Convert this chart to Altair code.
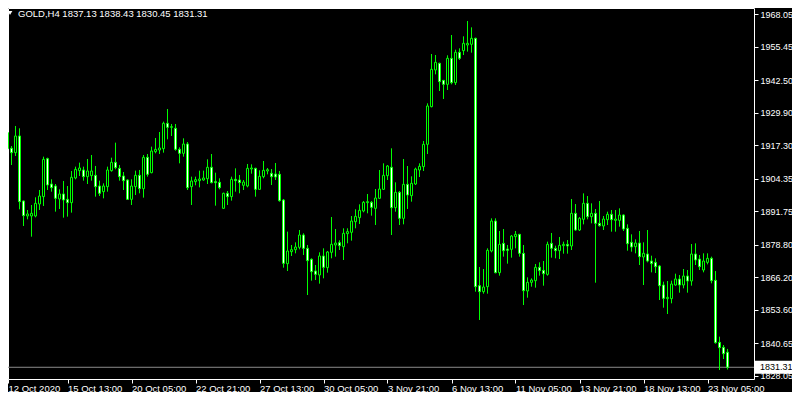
import json
import altair as alt
import numpy as np
import pandas as pd

# ---- data (GOLD, H4) ----
opens = [1923.23, 1922.20, 1916.13, 1914.45, 1920.91, 1895.73, 1889.92, 1889.92, 1889.92, 1894.57,
         1897.41, 1912.13, 1902.31, 1901.54, 1896.50, 1898.44, 1896.37, 1895.08, 1904.64, 1907.48,
         1907.74, 1905.15, 1905.54, 1905.67, 1901.54, 1899.34, 1901.28, 1907.48, 1910.71, 1908.38,
         1905.41, 1903.86, 1896.37, 1901.28, 1905.67, 1900.51, 1912.64, 1906.70, 1914.84, 1915.48,
         1916.00, 1925.81, 1924.27, 1923.88, 1915.74, 1914.19, 1917.81, 1901.28, 1903.22, 1903.60,
         1903.86, 1904.38, 1908.77, 1903.22, 1902.96, 1892.89, 1898.70, 1897.41, 1904.12, 1903.86,
         1901.80, 1901.54, 1908.12, 1908.38, 1900.24, 1905.15, 1907.35, 1906.44, 1906.18, 1906.06,
         1896.11, 1871.45, 1876.10, 1876.87, 1877.78, 1882.55, 1877.39, 1873.13, 1868.61, 1867.06,
         1874.42, 1869.90, 1875.84, 1878.68, 1879.58, 1878.03, 1883.07, 1883.59, 1887.72, 1889.27,
         1891.85, 1895.08, 1895.21, 1892.88, 1896.76, 1900.24, 1905.54, 1908.77, 1893.14, 1899.08,
         1889.01, 1902.18, 1897.79, 1902.31, 1907.73, 1909.03, 1917.68, 1932.27, 1946.47, 1949.06,
         1942.47, 1940.92, 1950.99, 1941.57, 1953.32, 1953.96, 1956.16, 1956.42, 1958.74, 1862.93,
         1860.60, 1862.54, 1876.36, 1887.97, 1867.96, 1879.32, 1877.13, 1877.00, 1881.90, 1882.81,
         1875.45, 1860.86, 1864.21, 1864.86, 1870.02, 1868.86, 1867.31, 1879.32, 1877.39, 1876.48,
         1878.42, 1878.93, 1878.29, 1890.94, 1884.49, 1888.62, 1894.82, 1889.65, 1890.94, 1887.07,
         1886.04, 1888.49, 1890.56, 1888.23, 1888.23, 1890.30, 1885.13, 1879.71, 1878.03, 1879.45,
         1874.03, 1875.19, 1872.48, 1871.96, 1870.54, 1863.18, 1857.89, 1857.89, 1863.18, 1865.51,
         1863.18, 1866.67, 1864.73, 1875.19, 1873.25, 1868.99, 1871.96, 1873.51, 1864.99, 1840.97,
         1839.03, 1837.13]
highs = [1923.88, 1925.17, 1917.03, 1924.78, 1923.88, 1895.90, 1892.24, 1894.18, 1897.15, 1899.99,
         1912.90, 1912.51, 1904.12, 1902.31, 1900.25, 1903.48, 1901.54, 1907.35, 1909.03, 1910.58,
         1909.03, 1912.00, 1913.55, 1909.29, 1903.60, 1902.57, 1909.03, 1912.51, 1918.33, 1909.67,
         1906.96, 1904.12, 1904.12, 1907.48, 1907.74, 1913.55, 1913.93, 1916.78, 1920.13, 1922.46,
         1926.46, 1931.36, 1925.56, 1925.56, 1916.52, 1920.00, 1918.58, 1905.15, 1905.15, 1907.48,
         1907.48, 1911.87, 1913.93, 1906.70, 1904.51, 1898.96, 1899.60, 1905.15, 1908.38, 1905.80,
         1903.86, 1910.06, 1909.93, 1908.60, 1907.61, 1911.22, 1908.51, 1908.12, 1910.45, 1907.35,
         1896.50, 1883.85, 1878.68, 1879.71, 1884.49, 1883.20, 1878.68, 1873.52, 1870.93, 1875.84,
         1877.39, 1876.36, 1889.53, 1884.88, 1880.49, 1885.14, 1885.14, 1889.91, 1892.50, 1894.43,
         1895.73, 1898.44, 1895.73, 1900.37, 1907.73, 1910.32, 1909.67, 1916.13, 1902.96, 1899.60,
         1912.00, 1909.28, 1905.28, 1908.64, 1910.32, 1918.97, 1933.56, 1952.67, 1952.28, 1949.30,
         1942.60, 1952.16, 1960.03, 1954.35, 1954.87, 1959.52, 1965.46, 1963.00, 1959.00, 1870.16,
         1869.38, 1877.39, 1889.01, 1889.01, 1884.10, 1884.87, 1878.68, 1882.55, 1884.10, 1883.00,
         1878.68, 1866.15, 1865.76, 1871.32, 1871.96, 1872.48, 1879.97, 1883.33, 1878.42, 1881.78,
         1879.97, 1880.61, 1896.50, 1894.56, 1889.52, 1898.69, 1897.66, 1894.82, 1892.62, 1895.72,
         1889.91, 1891.59, 1892.24, 1892.24, 1892.88, 1890.56, 1886.68, 1882.81, 1880.87, 1884.10,
         1879.71, 1884.49, 1874.54, 1873.51, 1870.93, 1864.47, 1864.73, 1864.86, 1867.57, 1867.05,
         1869.38, 1868.99, 1879.06, 1879.32, 1874.80, 1875.45, 1875.45, 1874.16, 1868.60, 1843.17,
         1839.94, 1838.43]
lows = [1920.00, 1915.74, 1909.67, 1913.16, 1892.50, 1886.04, 1888.63, 1881.91, 1889.40, 1892.24,
        1893.79, 1899.99, 1899.34, 1891.60, 1892.63, 1889.27, 1889.66, 1891.21, 1904.12, 1905.41,
        1903.60, 1902.31, 1903.60, 1897.41, 1897.66, 1896.76, 1899.34, 1907.09, 1907.99, 1903.60,
        1899.99, 1896.11, 1894.18, 1898.05, 1898.70, 1897.02, 1905.15, 1906.45, 1914.19, 1913.93,
        1914.45, 1919.62, 1920.91, 1915.23, 1910.32, 1912.90, 1899.99, 1894.18, 1901.80, 1901.02,
        1903.60, 1902.31, 1902.57, 1893.92, 1900.25, 1892.63, 1894.18, 1895.86, 1899.34, 1898.70,
        1899.99, 1901.02, 1906.31, 1897.40, 1899.99, 1904.51, 1906.06, 1901.92, 1903.86, 1895.47,
        1869.90, 1868.61, 1874.42, 1875.45, 1877.00, 1874.81, 1859.31, 1864.86, 1865.12, 1863.70,
        1865.77, 1867.96, 1873.52, 1874.16, 1876.74, 1872.87, 1879.33, 1880.36, 1885.14, 1886.82,
        1891.34, 1890.95, 1890.04, 1886.43, 1896.50, 1899.99, 1903.86, 1882.55, 1891.59, 1886.43,
        1886.69, 1892.63, 1895.47, 1901.92, 1905.02, 1907.35, 1913.93, 1932.00, 1944.79, 1938.34,
        1935.24, 1938.73, 1940.92, 1940.66, 1950.35, 1952.28, 1953.58, 1953.19, 1860.60, 1849.63,
        1859.83, 1859.83, 1875.84, 1867.70, 1866.80, 1874.16, 1871.45, 1873.77, 1877.39, 1874.16,
        1855.43, 1858.27, 1862.54, 1862.15, 1866.80, 1862.92, 1866.80, 1873.77, 1873.51, 1873.25,
        1875.32, 1875.32, 1876.74, 1884.23, 1884.10, 1886.68, 1888.62, 1887.07, 1864.08, 1885.78,
        1884.49, 1886.42, 1883.84, 1883.84, 1885.78, 1884.10, 1876.48, 1876.09, 1875.45, 1870.93,
        1863.18, 1871.96, 1868.09, 1867.83, 1857.37, 1854.40, 1851.95, 1856.08, 1862.92, 1860.21,
        1861.89, 1860.21, 1862.92, 1870.93, 1868.99, 1868.09, 1871.19, 1863.83, 1840.45, 1830.25,
        1834.51, 1830.45]
closes = [1922.46, 1916.00, 1914.45, 1920.91, 1895.47, 1890.05, 1890.69, 1890.95, 1894.82, 1897.66,
          1911.87, 1901.93, 1900.89, 1896.76, 1898.44, 1896.11, 1895.08, 1904.90, 1907.99, 1908.51,
          1905.15, 1907.35, 1907.35, 1901.28, 1898.70, 1901.54, 1907.74, 1910.71, 1908.64, 1905.15,
          1903.60, 1896.37, 1901.54, 1905.67, 1900.51, 1912.64, 1906.06, 1915.10, 1915.74, 1916.26,
          1925.81, 1924.27, 1924.52, 1915.74, 1914.19, 1917.81, 1900.89, 1903.48, 1903.99, 1904.25,
          1904.64, 1908.77, 1902.83, 1902.83, 1900.89, 1898.70, 1897.41, 1904.12, 1903.60, 1902.83,
          1903.09, 1908.38, 1908.51, 1900.24, 1905.28, 1907.61, 1907.86, 1905.15, 1905.02, 1895.85,
          1871.58, 1876.36, 1876.87, 1877.90, 1882.55, 1877.39, 1872.61, 1868.35, 1867.32, 1874.42,
          1870.03, 1875.97, 1878.94, 1879.46, 1878.42, 1883.20, 1883.85, 1887.98, 1889.78, 1892.11,
          1895.21, 1895.47, 1893.27, 1896.89, 1900.37, 1905.67, 1909.28, 1893.14, 1899.08, 1889.01,
          1902.18, 1898.05, 1902.57, 1908.12, 1909.15, 1917.68, 1932.53, 1946.73, 1949.44, 1941.95,
          1940.92, 1950.99, 1941.57, 1953.32, 1950.99, 1956.80, 1956.80, 1958.74, 1862.54, 1860.60,
          1862.41, 1876.61, 1887.98, 1867.96, 1878.93, 1876.48, 1876.61, 1882.16, 1882.81, 1875.45,
          1860.99, 1864.21, 1865.12, 1870.02, 1868.73, 1867.57, 1878.93, 1877.39, 1876.48, 1878.55,
          1878.93, 1878.29, 1890.94, 1884.49, 1889.01, 1894.82, 1889.65, 1890.94, 1887.07, 1886.17,
          1888.75, 1890.56, 1888.49, 1888.75, 1890.30, 1884.87, 1879.19, 1877.90, 1879.45, 1874.16,
          1875.45, 1872.48, 1871.45, 1870.28, 1862.92, 1858.02, 1858.40, 1863.57, 1865.51, 1863.18,
          1866.67, 1864.73, 1875.19, 1872.87, 1870.28, 1872.48, 1873.51, 1864.86, 1840.84, 1838.91,
          1836.58, 1831.31]

time_labels = ["12 Oct 2020", "15 Oct 13:00", "20 Oct 05:00", "22 Oct 21:00", "27 Oct 13:00",
               "30 Oct 05:00", "3 Nov 21:00", "6 Nov 13:00", "11 Nov 05:00", "13 Nov 21:00",
               "18 Nov 13:00", "23 Nov 05:00"]
bars_per_label = 16
price_ticks = [1828.05, 1840.65, 1853.60, 1866.20, 1878.80, 1891.75, 1904.35, 1917.30,
               1929.90, 1942.50, 1955.45, 1968.05]
symbol = "GOLD,H4"
last_price = closes[-1]
header = f"{symbol}  {opens[-1]:.2f} {highs[-1]:.2f} {lows[-1]:.2f} {closes[-1]:.2f}"

# ---- chart ----
n = len(opens)
df = pd.DataFrame({"i": np.arange(n), "o": opens, "h": highs, "l": lows, "c": closes})
df["dir"] = np.where(df["c"] >= df["o"], "up", "down")

W, H = 746, 371
LIME = "#00FF00"
FONT = "Liberation Sans"
FS = 9.5
YFS = 9

x_start = 1.125
xscale = alt.Scale(domain=[x_start, 187.625], nice=False, zero=False, padding=0)
yscale = alt.Scale(domain=[1826.77, 1970.49], nice=False, zero=False, padding=0)

# first label's bar lies just left of the visible window: pin its tick to the left edge
tick_values = [max(bars_per_label * j, x_start) for j in range(len(time_labels))]
label_expr = json.dumps(time_labels) + f"[round(datum.value / {bars_per_label})]"
x_axis = alt.Axis(
    values=tick_values,
    labelExpr=label_expr, title=None, grid=False, domain=False,
    tickColor="white", tickSize=4, labelColor="white", labelFont=FONT,
    labelFontSize=FS, labelAlign="left", labelBaseline="top", labelPadding=0,
    labelOverlap=False, labelFlush=False, labelBound=False,
)
y_axis = alt.Axis(
    orient="right", values=price_ticks, format=".2f", title=None, grid=False,
    domain=False, tickColor="white", tickSize=4, labelColor="white",
    labelFont=FONT, labelFontSize=YFS, labelPadding=2, labelOverlap=False,
    labelFlush=False, labelBound=False,
)

X = alt.X("i:Q", scale=xscale, axis=x_axis)


def Y(field):
    return alt.Y(field, scale=yscale, axis=y_axis)


base = alt.Chart(df)
wicks = base.mark_rule(color=LIME, strokeWidth=1, clip=True).encode(
    x=X, y=Y("l:Q"), y2="h:Q")
bodies = base.mark_bar(width=2, stroke=LIME, strokeWidth=1, clip=True).encode(
    x=X, y=Y("o:Q"), y2="c:Q",
    fill=alt.Fill("dir:N", scale=alt.Scale(domain=["up", "down"], range=["#000000", "#FFFFFF"]),
                  legend=None),
)

pdf = pd.DataFrame({"p": [last_price], "lbl": [f"{last_price:.2f}"]})
pline = alt.Chart(pdf).mark_rule(color="#8c8c8c", strokeWidth=1).encode(y=Y("p:Q"))
pbox = alt.Chart(pdf).mark_rect(color="white", height=13).encode(
    x=alt.value(747), x2=alt.value(784), y=Y("p:Q"))
ptext = alt.Chart(pdf).mark_text(align="left", baseline="middle", color="black",
                                 font=FONT, fontSize=YFS).encode(
    x=alt.value(752), y=Y("p:Q"), text="lbl:N")

hdf = pd.DataFrame({"t": [header]})
htext = alt.Chart(hdf).mark_text(align="left", baseline="middle", color="white",
                                 font=FONT, fontSize=FS).encode(
    x=alt.value(10), y=alt.value(5.5), text="t:N")
htri = alt.Chart(hdf).mark_point(shape="triangle-down", filled=True, color="white",
                                 size=22, opacity=1).encode(x=alt.value(2), y=alt.value(5))

chart = alt.layer(pline, wicks, bodies, pbox, ptext, htext, htri).properties(
    width=W, height=H,
    autosize=alt.AutoSizeParams(type="none"),
    padding={"left": 0, "top": 0, "right": 38, "bottom": 13},
    background="black",
).configure_view(stroke="white", strokeWidth=1)

chart.save("out.html", embed_options={"renderer": "svg", "actions": False})
